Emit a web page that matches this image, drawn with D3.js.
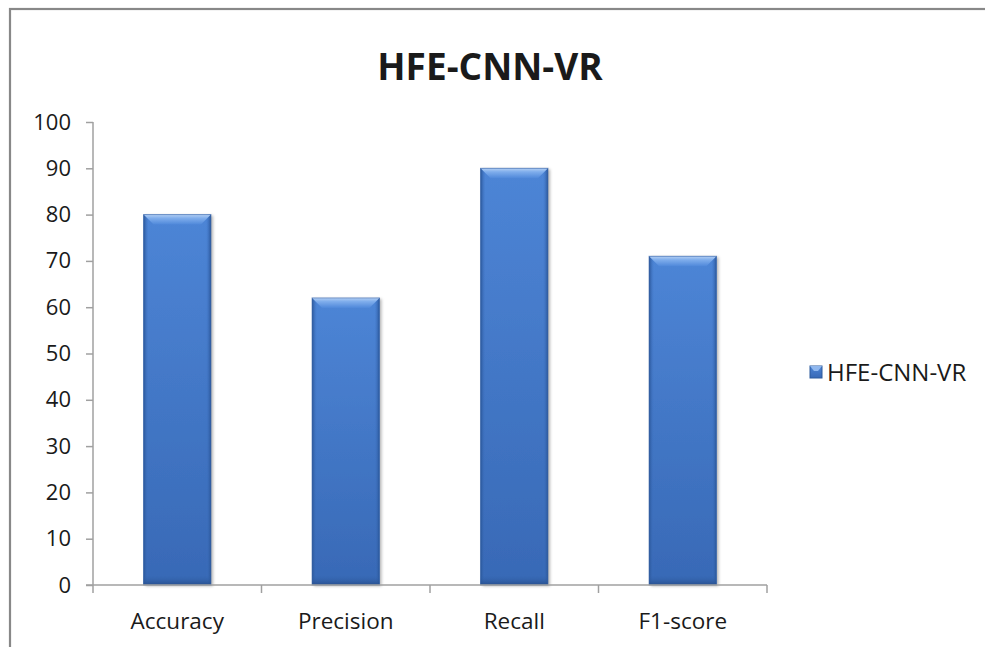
<!DOCTYPE html>
<html>
<head>
<meta charset="utf-8">
<script src="https://cdn.jsdelivr.net/npm/d3@7/dist/d3.min.js"></script>
<style>
  html, body { margin: 0; padding: 0; background: #fff; }
  svg { display: block; }
  text { font-family: "Open Sans", "Liberation Sans", sans-serif; fill: #1a1a1a; }
</style>
</head>
<body>
<svg id="chart" width="985" height="647"></svg>
<script>
// Chart data
const categories = ["Accuracy", "Precision", "Recall", "F1-score"];
const seriesName = "HFE-CNN-VR";
const seriesValues = [80, 62, 90, 71];
const yTicks = [0, 10, 20, 30, 40, 50, 60, 70, 80, 90, 100];
const chartTitle = "HFE-CNN-VR";

const svg = d3.select("#chart");
const W = 985, H = 647;

// Outer chart frame (runs off the right and bottom edges)
svg.append("rect")
  .attr("x", 10).attr("y", 9)
  .attr("width", W + 20).attr("height", H + 20)
  .attr("fill", "#fff")
  .attr("stroke", "#888").attr("stroke-width", 2.2);

const plot = { left: 93, right: 767, top: 122, bottom: 585 };

const x = d3.scaleBand()
  .domain(categories)
  .range([plot.left, plot.right])
  .paddingInner(0.6)
  .paddingOuter(0.3);

const y = d3.scaleLinear()
  .domain([0, 100])
  .range([plot.bottom, plot.top]);

// Gradients for the bevelled bars
const defs = svg.append("defs");
const body = defs.append("linearGradient").attr("id", "barBody")
  .attr("x1", 0).attr("y1", 0).attr("x2", 0).attr("y2", 1);
body.append("stop").attr("offset", "0%").attr("stop-color", "#4d85d6");
body.append("stop").attr("offset", "100%").attr("stop-color", "#3869b6");

const topFace = defs.append("linearGradient").attr("id", "barTop")
  .attr("x1", 0).attr("y1", 0).attr("x2", 0).attr("y2", 1);
topFace.append("stop").attr("offset", "0%").attr("stop-color", "#b3cff4");
topFace.append("stop").attr("offset", "35%").attr("stop-color", "#80aeec");
topFace.append("stop").attr("offset", "100%").attr("stop-color", "#4f88da");

const leftSide = defs.append("linearGradient").attr("id", "barLeft")
  .attr("x1", 0).attr("y1", 0).attr("x2", 1).attr("y2", 0);
leftSide.append("stop").attr("offset", "0%").attr("stop-color", "#2a5597");
leftSide.append("stop").attr("offset", "100%").attr("stop-color", "#3f74c4").attr("stop-opacity", 0);

const rightSide = defs.append("linearGradient").attr("id", "barRight")
  .attr("x1", 1).attr("y1", 0).attr("x2", 0).attr("y2", 0);
rightSide.append("stop").attr("offset", "0%").attr("stop-color", "#2a5597");
rightSide.append("stop").attr("offset", "100%").attr("stop-color", "#3f74c4").attr("stop-opacity", 0);

const bottomSide = defs.append("linearGradient").attr("id", "barBottom")
  .attr("x1", 0).attr("y1", 1).attr("x2", 0).attr("y2", 0);
bottomSide.append("stop").attr("offset", "0%").attr("stop-color", "#28508f");
bottomSide.append("stop").attr("offset", "100%").attr("stop-color", "#3466b0").attr("stop-opacity", 0);

const shadow = defs.append("filter").attr("id", "barShadow")
  .attr("x", "-20%").attr("y", "-5%").attr("width", "150%").attr("height", "115%");
shadow.append("feDropShadow")
  .attr("dx", 2).attr("dy", 1).attr("stdDeviation", 1.6)
  .attr("flood-color", "#000").attr("flood-opacity", 0.3);

// Title
svg.append("text")
  .attr("x", 490).attr("y", 80)
  .attr("text-anchor", "middle")
  .attr("font-size", 37).attr("font-weight", "bold")
  .text(chartTitle);

// Bars
const bev = 10;
const bars = svg.append("g").selectAll("g.bar")
  .data(categories.map((c, i) => ({ cat: c, val: seriesValues[i] })))
  .join("g").attr("class", "bar");

bars.append("rect")
  .attr("x", d => x(d.cat)).attr("y", d => y(d.val))
  .attr("width", x.bandwidth()).attr("height", d => y(0) - y(d.val))
  .attr("fill", "url(#barBody)")
  .attr("filter", "url(#barShadow)");

bars.append("rect")
  .attr("x", d => x(d.cat)).attr("y", d => y(d.val))
  .attr("width", 5).attr("height", d => y(0) - y(d.val))
  .attr("fill", "url(#barLeft)");

bars.append("rect")
  .attr("x", d => x(d.cat) + x.bandwidth() - 5).attr("y", d => y(d.val))
  .attr("width", 5).attr("height", d => y(0) - y(d.val))
  .attr("fill", "url(#barRight)");

bars.append("rect")
  .attr("x", d => x(d.cat)).attr("y", y(0) - 10)
  .attr("width", x.bandwidth()).attr("height", 10)
  .attr("fill", "url(#barBottom)");

bars.append("path")
  .attr("d", d => {
    const x0 = x(d.cat), x1 = x0 + x.bandwidth(), y0 = y(d.val);
    return `M${x0},${y0}L${x1},${y0}L${x1 - bev},${y0 + bev}L${x0 + bev},${y0 + bev}Z`;
  })
  .attr("fill", "url(#barTop)");

bars.append("rect")
  .attr("x", d => x(d.cat)).attr("y", d => y(d.val))
  .attr("width", x.bandwidth()).attr("height", d => y(0) - y(d.val))
  .attr("fill", "none")
  .attr("stroke", "#3a66a8").attr("stroke-opacity", 0.6).attr("stroke-width", 1);

// Y axis
const yAxis = svg.append("g")
  .attr("transform", `translate(${plot.left},0)`)
  .call(d3.axisLeft(y).tickValues(yTicks).tickSize(7).tickPadding(15).tickFormat(d3.format("d")));
yAxis.select(".domain").attr("stroke", "#a0a0a0").attr("stroke-width", 1.5)
  .attr("d", `M0,${plot.top}V${plot.bottom}`);
yAxis.selectAll(".tick line").attr("stroke", "#a0a0a0").attr("stroke-width", 1.5);
yAxis.selectAll(".tick text").attr("font-size", 22).attr("fill", "#1a1a1a")
  .attr("font-family", "'Open Sans', sans-serif");

// X axis with ticks between categories
const boundaries = d3.range(categories.length + 1)
  .map(i => plot.left + i * x.step());
const xg = svg.append("g");
xg.append("line")
  .attr("x1", plot.left - 7).attr("x2", plot.right)
  .attr("y1", y(0)).attr("y2", y(0))
  .attr("stroke", "#a0a0a0").attr("stroke-width", 1.5);
xg.selectAll("line.tk").data(boundaries).join("line").attr("class", "tk")
  .attr("x1", d => d).attr("x2", d => d)
  .attr("y1", y(0)).attr("y2", y(0) + 8)
  .attr("stroke", "#a0a0a0").attr("stroke-width", 1.5);
xg.selectAll("text").data(categories).join("text")
  .attr("x", d => x(d) + x.bandwidth() / 2)
  .attr("y", y(0) + 44)
  .attr("text-anchor", "middle")
  .attr("font-size", 22.5)
  .text(d => d);

// Legend
const lg = svg.append("g");
lg.append("rect")
  .attr("x", 810).attr("y", 366).attr("width", 12).attr("height", 12)
  .attr("fill", "url(#barBody)").attr("stroke", "#2d5a9c").attr("stroke-width", 1);
lg.append("path")
  .attr("d", "M810,366L822,366L818,371L814,371Z").attr("fill", "#8fb7ee");
lg.append("text")
  .attr("x", 827).attr("y", 381)
  .attr("font-size", 24)
  .text(seriesName);
</script>
</body>
</html>
